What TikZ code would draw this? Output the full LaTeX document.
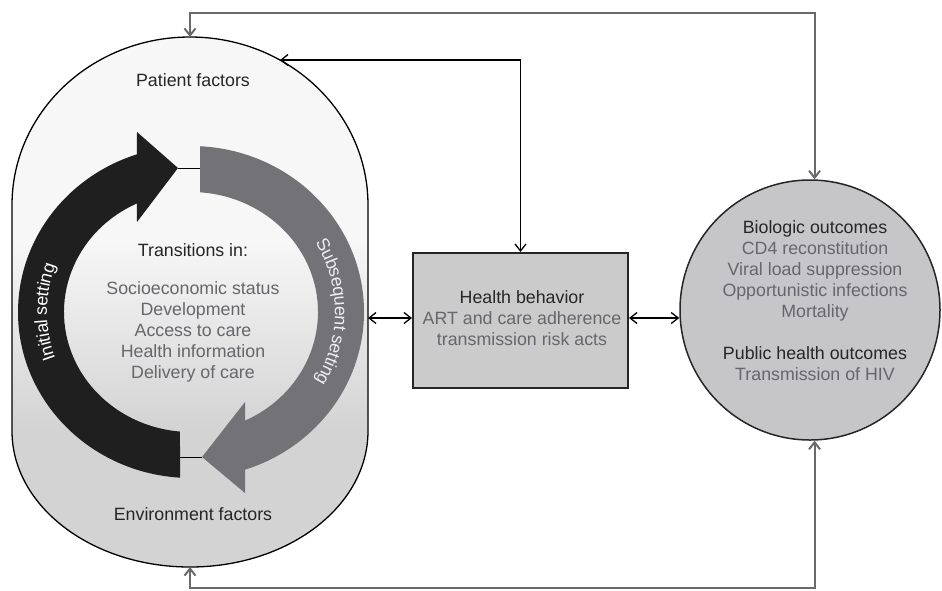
\documentclass[tikz,border=0pt]{standalone}
\usepackage{fontspec}
\setmainfont{Liberation Sans}
\usetikzlibrary{arrows.meta,calc,decorations.text}

\definecolor{lenslight}{HTML}{F7F7F7}
\definecolor{lensdark}{HTML}{D3D3D3}
\definecolor{ringblack}{HTML}{1F1F1F}
\definecolor{ringgray}{HTML}{727277}
\definecolor{ringtext}{HTML}{EEEEEE}
\definecolor{boxfill}{HTML}{CBCBCC}
\definecolor{circfill}{HTML}{C6C6C8}
\definecolor{darktext}{HTML}{262626}
\definecolor{graytext}{HTML}{66666C}
\definecolor{loopgray}{HTML}{6A6A6A}

% light at the top, grey towards the bottom
\pgfdeclareverticalshading{lensshade}{100bp}{color(0bp)=(lensdark); color(37.9bp)=(lensdark); color(55.8bp)=(lenslight); color(100bp)=(lenslight)}

\newcommand\dgfont{\fontsize{17.8}{21}\selectfont}

\begin{document}
\begin{tikzpicture}[x=1pt,y=-1pt,
  tip/.tip={Straight Barb[length=7pt,width=11pt]},
  conn/.style={draw=black, line width=1.3pt, tip-tip},
  loopline/.style={draw=loopgray, line width=2pt, tip-tip},
  label/.style={font=\dgfont, inner sep=0pt},
  dark/.style={label, text=darktext},
  grey/.style={label, text=graytext, align=center},
  boxstyle/.style={draw=black!85, line width=2pt, fill=boxfill, rectangle},
  circstyle/.style={draw=black!85, line width=1.5pt, fill=circfill, circle},
  ringlabel/.style={decorate, decoration={text along path, text align=center, raise=-6pt, text color=ringtext}}
]
\useasboundingbox (0,0) rectangle (942,590);

% patient / environment factors outline
\shadedraw[shading=lensshade, draw=black, line width=1.3pt]
  (12,205) arc[start angle=180, end angle=360, x radius=178, y radius=168]
  -- (368,431) arc[start angle=0, end angle=180, x radius=178, y radius=136]
  -- cycle;
\coordinate (pftop) at (190,37);
\coordinate (pfne) at (280,60);
\coordinate (pfeast) at (368,318);
\coordinate (efbot) at (190,567);

% circular setting arrows
\coordinate (C) at (191,312);
\fill[ringblack]
  ($(C)+(93.6:173 and 166)$) arc[start angle=93.6, end angle=251.8, x radius=173, y radius=166]
  -- (137,132) -- (178,168) -- (137,222)
  -- ($(C)+(244.8:127 and 120)$) arc[start angle=244.8, end angle=95, x radius=127, y radius=120]
  -- cycle;
\fill[ringgray]
  ($(C)+(-87:173 and 166)$) arc[start angle=-87, end angle=71.8, x radius=173, y radius=166]
  -- (245,493) -- (202,457) -- (245,402)
  -- ($(C)+(64.8:127 and 120)$) arc[start angle=64.8, end angle=-85.9, x radius=127, y radius=120]
  -- cycle;
\coordinate (blacktip) at (178,168);
\coordinate (graystart) at (200,168);
\coordinate (blackend) at (180,457);
\coordinate (graytip) at (202,457);
\draw[line width=1pt] (blacktip) -- (graystart);
\draw[line width=1pt] (blackend) -- (graytip);

\path[ringlabel, decoration={text={|\dgfont|Initial setting}, text color=white}]
  ($(C)+(125:150 and 143)$) arc[start angle=125, end angle=235, x radius=150, y radius=143];
\path[ringlabel, decoration={text={|\dgfont|Subsequent setting}}]
  ($(C)+(-55:150 and 143)$) arc[start angle=-55, end angle=55, x radius=150, y radius=143];

% texts inside the factors outline
\node[dark] (pf) at (193,80) {Patient factors};
\node[dark] (ti) at (193,250.5) {Transitions in:};
\node[grey] (tl) at (193,332) {Socioeconomic status\\Development\\Access to care\\Health information\\Delivery of care};
\node[dark] (ef) at (193,514) {Environment factors};

% health behavior box
\node[boxstyle, minimum width=215, minimum height=135] (hb) at (520.5,320.5) {};
\node[grey] (hbt) at (522,318) {\textcolor{darktext}{Health behavior}\\ART and care adherence\\transmission risk acts};

% outcomes circle
\node[circstyle, minimum size=260] (bo) at (810,310) {};
\node[grey, anchor=north] (bot) at (815,220) {\textcolor{darktext}{Biologic outcomes}\\CD4 reconstitution\\Viral load suppression\\Opportunistic infections\\Mortality\\[21pt]\textcolor{darktext}{Public health outcomes}\\Transmission of HIV};

% connectors
\draw[loopline] (pftop) -- ++(0,-24) -| (bo.88);
\draw[loopline] (efbot) -- ++(0,21) -| (bo.-88);
\draw[conn] (pfne) -| (hb.north);
\draw[conn] (pfeast) -- (pfeast -| hb.west);
\draw[conn] (pfeast -| hb.east) -- (pfeast -| bo.west);
\end{tikzpicture}
\end{document}
